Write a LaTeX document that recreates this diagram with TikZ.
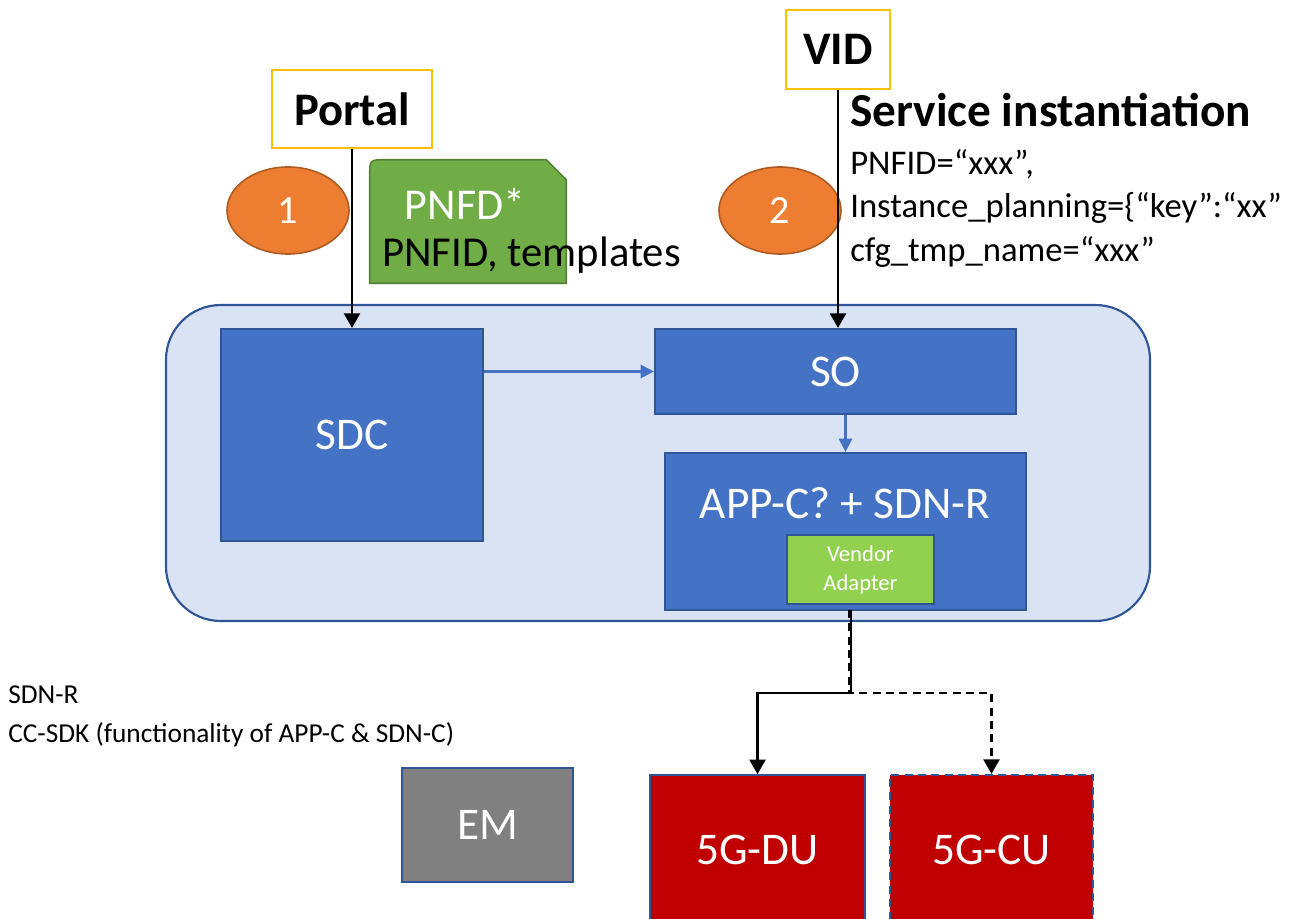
\documentclass[tikz,border=0pt]{standalone}
\usepackage{fontspec}
\setmainfont{Carlito}
\usetikzlibrary{arrows.meta,shapes.geometric}
\definecolor{bluefill}{HTML}{4472C4}
\definecolor{blueline}{HTML}{2F5597}
\definecolor{outerfill}{HTML}{DAE3F3}
\definecolor{orangefill}{HTML}{ED7D31}
\definecolor{orangeline}{HTML}{AE5A21}
\definecolor{greenfill}{HTML}{70AD47}
\definecolor{greenline}{HTML}{548235}
\definecolor{lightgreen}{HTML}{92D050}
\definecolor{redfill}{HTML}{C00000}
\definecolor{grayfill}{HTML}{808080}
\definecolor{yellowline}{HTML}{FFC000}
\tikzset{
  bluebox/.style={draw=blueline, line width=1.6pt, fill=bluefill, text=white, inner sep=0pt,
    font=\fontsize{34}{40}\selectfont},
  topbox/.style={draw=yellowline, line width=1.6pt, fill=white, inner sep=0pt,
    font=\bfseries\fontsize{35}{42}\selectfont},
  stepnum/.style={ellipse, draw=orangeline, line width=1.2pt, fill=orangefill, text=white,
    minimum width=91.5pt, minimum height=65.25pt, inner sep=0pt, font=\fontsize{30}{36}\selectfont},
  blackarrow/.style={line width=2pt, -{Triangle[width=12pt,length=11pt]}},
  bluearrow/.style={draw=bluefill, line width=1.6pt, -{Triangle[width=10pt,length=10pt]}, bluefill},
  bodytext/.style={anchor=base west, inner sep=0pt, font=\fontsize{26}{31}\selectfont},
  notetext/.style={anchor=base west, inner sep=0pt, font=\fontsize{20.5}{24}\selectfont},
}
\begin{document}
\begin{tikzpicture}[x=0.75pt,y=-0.75pt]
\useasboundingbox (0,0) rectangle (1316,919);

% outer container
\node[draw=blueline, line width=1.6pt, fill=outerfill, rounded corners=41pt,
  minimum width=738pt, minimum height=237pt] (onap) at (658,463) {};

% inner boxes
\node[bluebox, minimum width=196.5pt, minimum height=159pt] (sdc) at (352,435) {SDC};
\node[bluebox, minimum width=270.75pt, minimum height=63.75pt] (so) at (835.5,371.5) {SO};
\node[bluebox, minimum width=270.75pt, minimum height=117.75pt] (appc) at (845.5,531.5) {};
\node[text=white, inner sep=0pt, anchor=base, font=\fontsize{34}{40}\selectfont] (appclabel) at (845,518) {APP-C? + SDN-R};
\node[draw=blueline, line width=1.6pt, fill=lightgreen, text=white, inner sep=0pt,
  minimum width=110.25pt, minimum height=51.75pt, align=center,
  font=\fontsize{17}{21.75}\selectfont] (va) at (860.5,569.5) {Vendor\\Adapter};

% top boxes
\node[topbox, minimum width=120pt, minimum height=58.5pt] (portal) at (352,109) {Portal};
\node[topbox, minimum width=78pt, minimum height=59.25pt] (vid) at (838,49.5) {VID};

% step ellipses
\node[stepnum] (one) at (288,210.5) {1};
\node[stepnum] (two) at (780,210.5) {2};

% PNFD shape
\node[minimum width=147pt, minimum height=92.25pt, inner sep=0pt] (pnfd) at (468,221.5) {};
\draw[draw=greenline, line width=1.2pt, fill=greenfill]
  (pnfd.south west) -- ([yshift=-12pt]pnfd.north west)
  .. controls (pnfd.north west) .. ([xshift=12pt]pnfd.north west)
  -- ([xshift=-15pt]pnfd.north east) -- ([yshift=-15pt]pnfd.north east)
  -- (pnfd.south east) -- cycle;
\node[anchor=base, inner sep=0pt, text=white, font=\fontsize{33}{40}\selectfont] (pnfdtitle) at (465,220) {PNFD*};
\node[anchor=base west, inner sep=0pt, font=\fontsize{32}{38}\selectfont] (pnfdtext) at (382,267) {PNFID, templates};

% service instantiation text
\node[anchor=base west, inner sep=0pt, font=\bfseries\fontsize{35.5}{42}\selectfont] (svc) at (850,127) {Service instantiation};
\node[bodytext] (l1) at (850,175) {PNFID=“xxx”,};
\node[bodytext] (l2) at (850,218) {Instance\_planning=\{“key”:“xx”};
\node[bodytext] (l3) at (850,262) {cfg\_tmp\_name=“xxx”};

% note text
\node[notetext] (n1) at (8,703) {SDN-R};
\node[notetext] (n2) at (8,742) {CC-SDK (functionality of APP-C \& SDN-C)};

% lower boxes
\node[draw=blueline, line width=1.6pt, fill=grayfill, text=white, inner sep=0pt,
  minimum width=128.25pt, minimum height=85.5pt, font=\fontsize{34}{40}\selectfont] (em) at (487.5,825) {EM};
\node[draw=blueline, line width=1.2pt, fill=redfill, text=white, inner sep=0pt,
  minimum width=161.25pt, minimum height=112.5pt, font=\fontsize{34}{40}\selectfont] (du) at (757.5,850) {5G-DU};
\node[draw=blueline, line width=1.6pt, dash pattern=on 6pt off 4pt, fill=redfill, text=white, inner sep=0pt,
  minimum width=152.25pt, minimum height=112.5pt, font=\fontsize{34}{40}\selectfont] (cu) at (991.5,850) {5G-CU};

% connectors
\draw[blackarrow] (portal.south) -- (sdc.north);
\draw[blackarrow] (vid.south) -- (vid.south |- so.north);
\draw[bluearrow] (so.west -| sdc.east) -- (so.west);
\draw[bluearrow] (appc.north |- so.south) -- (appc.north);

\coordinate (vout) at (851,610);
\coordinate (split) at (851,693);
\draw[line width=2pt, dash pattern=on 6pt off 4pt, -{Triangle[width=12pt,length=11pt]}]
  ([xshift=-1.5pt]vout) -- ([xshift=-1.5pt]split) -- (split) -| (cu.north);
\draw[blackarrow] (vout) -- (split) -| (du.north);
\end{tikzpicture}
\end{document}
